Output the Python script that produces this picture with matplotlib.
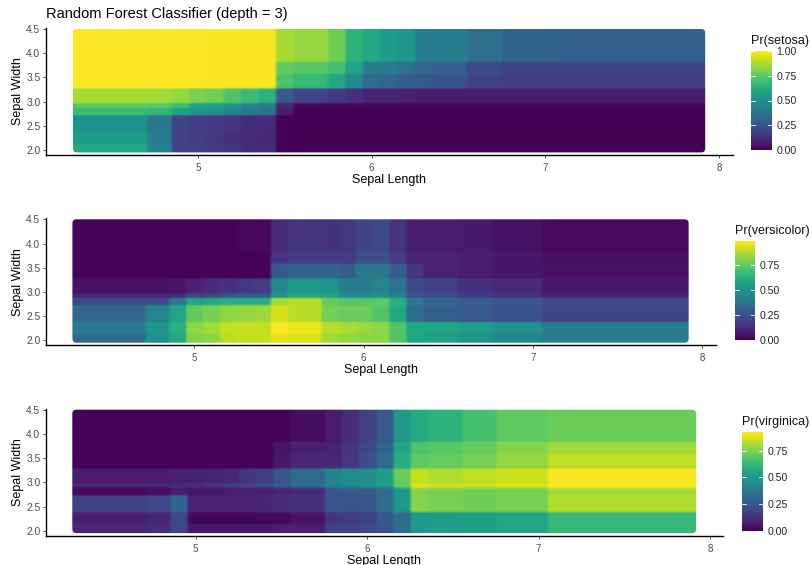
"""Random forest class probabilities over sepal length and width, one panel per species."""

import matplotlib

matplotlib.use("Agg")
import matplotlib.pyplot as plt
import numpy as np
from matplotlib.patches import FancyBboxPatch
from matplotlib.transforms import IdentityTransform

WIDTH, HEIGHT = 811, 565

# Cell edges of the prediction grid
length_edges = [4.28, 4.7, 4.85, 4.95, 5.05, 5.15, 5.25, 5.35, 5.45, 5.55, 5.75,
                5.85, 5.95, 6.05, 6.15, 6.25, 6.35, 6.55, 6.75, 7.05, 7.92]
width_edges = [1.95, 2.15, 2.38, 2.72, 2.9, 3.0, 3.28, 3.58, 3.83, 4.5]

# Rows run from the lowest sepal width to the highest
pr_setosa = [
    [.60, .45, .20, .19, .17, .15, .13, .12, .01, 0, 0, 0, 0, 0, 0, 0, 0, 0, 0, 0],
    [.55, .42, .20, .18, .16, .14, .12, .11, .01, 0, 0, 0, 0, 0, 0, 0, 0, 0, 0, 0],
    [.50, .40, .20, .18, .17, .15, .13, .12, .01, 0, 0, 0, 0, 0, 0, 0, 0, 0, 0, 0],
    [.68, .66, .58, .52, .50, .45, .42, .38, .08, .01, .01, .01, .01, .01, .01, .01, .01, .01, .01, .01],
    [.75, .74, .68, .60, .58, .52, .45, .42, .10, .02, .02, .02, .02, .02, .02, .02, .02, .02, .02, .02],
    [.87, .86, .84, .80, .78, .72, .68, .64, .28, .20, .17, .14, .10, .10, .09, .08, .08, .08, .08, .08],
    [1, 1, 1, 1, .99, .99, .99, .99, .72, .67, .60, .48, .35, .33, .30, .28, .25, .20, .18, .18],
    [1, 1, 1, 1, .99, .99, .99, .99, .76, .74, .70, .58, .42, .42, .38, .33, .30, .23, .20, .20],
    [1, 1, 1, 1, .99, .99, .99, .99, .87, .84, .78, .65, .60, .55, .52, .42, .42, .37, .32, .31],
]
pr_versicolor = [
    [.33, .50, .60, .80, .82, .88, .90, .90, .95, .93, .85, .83, .82, .82, .72, .58, .56, .52, .46, .42],
    [.40, .52, .62, .82, .85, .90, .90, .90, .99, .96, .88, .86, .84, .82, .72, .60, .58, .55, .50, .42],
    [.33, .45, .58, .75, .78, .82, .83, .84, .92, .88, .78, .76, .76, .72, .60, .35, .30, .28, .25, .20],
    [.22, .22, .40, .58, .60, .62, .62, .62, .85, .88, .75, .73, .73, .74, .62, .42, .33, .30, .27, .22],
    [.10, .10, .13, .18, .20, .25, .27, .28, .50, .60, .58, .48, .46, .48, .42, .25, .22, .18, .14, .10],
    [.05, .05, .06, .09, .12, .14, .16, .17, .45, .53, .52, .42, .42, .45, .38, .22, .20, .14, .12, .07],
    [.01, .01, .01, .01, .01, .01, .01, .01, .28, .32, .32, .30, .40, .40, .30, .15, .10, .08, .06, .05],
    [.01, .01, .01, .01, .01, .01, .01, .01, .14, .17, .17, .18, .24, .24, .18, .10, .10, .08, .06, .04],
    [.01, .01, .01, .01, .01, .01, .02, .02, .12, .15, .14, .16, .20, .22, .15, .08, .08, .07, .05, .03],
]
pr_virginica = [
    [.10, .12, .20, .06, .06, .06, .06, .06, .08, .08, .18, .18, .20, .24, .33, .50, .52, .53, .55, .62],
    [.08, .10, .20, .02, .02, .02, .02, .02, .02, .05, .14, .16, .18, .25, .33, .50, .52, .53, .55, .62],
    [.18, .20, .30, .09, .09, .09, .09, .10, .12, .13, .25, .24, .25, .33, .50, .76, .74, .73, .74, .82],
    [.02, .03, .07, .06, .06, .07, .08, .08, .10, .11, .25, .26, .27, .33, .50, .76, .74, .73, .74, .80],
    [.09, .09, .10, .11, .14, .16, .18, .20, .26, .33, .42, .44, .46, .52, .70, .88, .86, .86, .88, .93],
    [.07, .07, .08, .08, .09, .10, .14, .17, .25, .32, .42, .45, .45, .52, .72, .85, .82, .84, .86, .92],
    [.01, .01, .01, .01, .01, .01, .01, .01, .06, .10, .10, .15, .22, .32, .58, .70, .71, .74, .78, .84],
    [.01, .01, .01, .01, .01, .01, .01, .01, .05, .08, .09, .14, .20, .30, .55, .67, .69, .71, .76, .80],
    [.01, .01, .01, .01, .01, .01, .01, .01, .01, .03, .07, .12, .18, .26, .50, .57, .60, .66, .70, .72],
]

length_ticks = [5, 6, 7, 8]
width_ticks = [2.0, 2.5, 3.0, 3.5, 4.0, 4.5]
species_names = ["setosa", "versicolor", "virginica"]
legend_limits = [1.0, 0.987, 0.93]
legend_ticks = [[0, .25, .5, .75, 1], [0, .25, .5, .75], [0, .25, .5, .75]]

# Pixel layout per panel: axes box, x tick calibration, y tick calibration, colorbar box
panel_boxes = [(45.5, 732.7, 28.0, 155.0), (45.5, 716.0, 218.3, 345.3), (45.5, 723.3, 408.7, 536.0)]
x_calibration = [(198.0, 173.7), (194.3, 169.3), (195.7, 171.4)]
y_calibration = [(150.0, 48.4), (340.3, 48.4), (530.7, 48.4)]
legend_boxes = [(751.0, 771.7, 51.0, 150.0), (735.0, 755.0, 241.0, 339.7), (742.0, 763.0, 431.7, 530.7)]

X_STEP, Y_STEP = 0.02, 0.05


def px_axes(fig, left, right, top, bottom):
    return fig.add_axes([left / WIDTH, 1 - bottom / HEIGHT,
                         (right - left) / WIDTH, (bottom - top) / HEIGHT])


def sample_cells(values):
    # Look the cell values up on a fine regular grid so imshow can soften the edges.
    # Samples sit between the cell edges, so the softened edges stay in place.
    xs = np.arange(length_edges[0], length_edges[-1] + X_STEP, X_STEP)
    ys = np.arange(width_edges[0], width_edges[-1] + Y_STEP, Y_STEP)
    col = np.clip(np.searchsorted(length_edges, xs) - 1, 0, len(length_edges) - 2)
    row = np.clip(np.searchsorted(width_edges, ys) - 1, 0, len(width_edges) - 2)
    extent = (xs[0] - X_STEP / 2, xs[-1] + X_STEP / 2, ys[0] - Y_STEP / 2, ys[-1] + Y_STEP / 2)
    return np.array(values)[np.ix_(row, col)], extent


def draw_panel(fig, idx, values):
    left, right, top, bottom = panel_boxes[idx]
    ax = px_axes(fig, left, right, top, bottom)
    x5, x_unit = x_calibration[idx]
    y2, y_unit = y_calibration[idx]
    xlim = (5 + (left - x5) / x_unit, 5 + (right - x5) / x_unit)
    ylim = (2 + (y2 - bottom) / y_unit, 2 + (y2 - top) / y_unit)

    grid, extent = sample_cells(values)
    image = ax.imshow(grid, origin="lower", aspect="auto", extent=extent,
                      cmap="viridis", vmin=0, vmax=legend_limits[idx],
                      interpolation="bilinear")
    ax.set_xlim(xlim)
    ax.set_ylim(ylim)

    # Round the corners of the raster, radius measured in pixels
    (x0, y0), (x1, y1) = ax.transData.transform(
        [(length_edges[0], width_edges[0]), (length_edges[-1], width_edges[-1])]
    )
    radius = 4
    clip = FancyBboxPatch((x0 + radius, y0 + radius), x1 - x0 - 2 * radius, y1 - y0 - 2 * radius,
                          boxstyle=f"round,pad={radius},rounding_size={radius}",
                          transform=IdentityTransform(), facecolor="none", edgecolor="none")
    image.set_clip_path(clip)

    ax.spines[["top", "right"]].set_visible(False)
    ax.spines[["left", "bottom"]].set_linewidth(1.0)
    ax.set_xticks(length_ticks)
    ax.set_yticks(width_ticks)
    ax.set_yticklabels([f"{t:.1f}" for t in width_ticks])
    ax.tick_params(length=2.2, width=0.6, color="#333333", labelcolor="#4d4d4d",
                   labelsize=7.4, pad=1.5)
    ax.tick_params(axis="x", labelsize=7, pad=3.5)
    ax.set_xlabel("Sepal Length", fontsize=9, labelpad=0.8)
    ax.set_ylabel("Sepal Width", fontsize=9, labelpad=1.2)

    l_left, l_right, l_top, l_bottom = legend_boxes[idx]
    cax = px_axes(fig, l_left, l_right, l_top, l_bottom)
    cbar = fig.colorbar(image, cax=cax)
    cbar.outline.set_visible(False)
    cbar.set_ticks(legend_ticks[idx])
    cbar.set_ticklabels([f"{t:.2f}" for t in legend_ticks[idx]])
    cax.tick_params(length=0, labelsize=7.6, labelcolor="#262626", pad=3.5)
    for t in legend_ticks[idx]:
        cax.plot([0, 0.2], [t, t], color="white", lw=0.6, transform=cax.get_yaxis_transform())
        cax.plot([0.8, 1], [t, t], color="white", lw=0.6, transform=cax.get_yaxis_transform())
    fig.text(l_left / WIDTH, 1 - (l_top - 4) / HEIGHT, f"Pr({species_names[idx]})",
             fontsize=9, color="#111111", ha="left", va="bottom")
    return ax


def main() -> None:
    plt.rcParams["font.family"] = ["Liberation Sans", "DejaVu Sans"]
    fig = plt.figure(figsize=(WIDTH / 100, HEIGHT / 100), dpi=100)

    for idx, values in enumerate([pr_setosa, pr_versicolor, pr_virginica]):
        ax = draw_panel(fig, idx, values)
        if idx == 0:
            ax.set_title("Random Forest Classifier (depth = 3)", fontsize=10.5,
                         loc="left", pad=7)

    fig.savefig("out.png", dpi=100)


if __name__ == "__main__":
    main()
